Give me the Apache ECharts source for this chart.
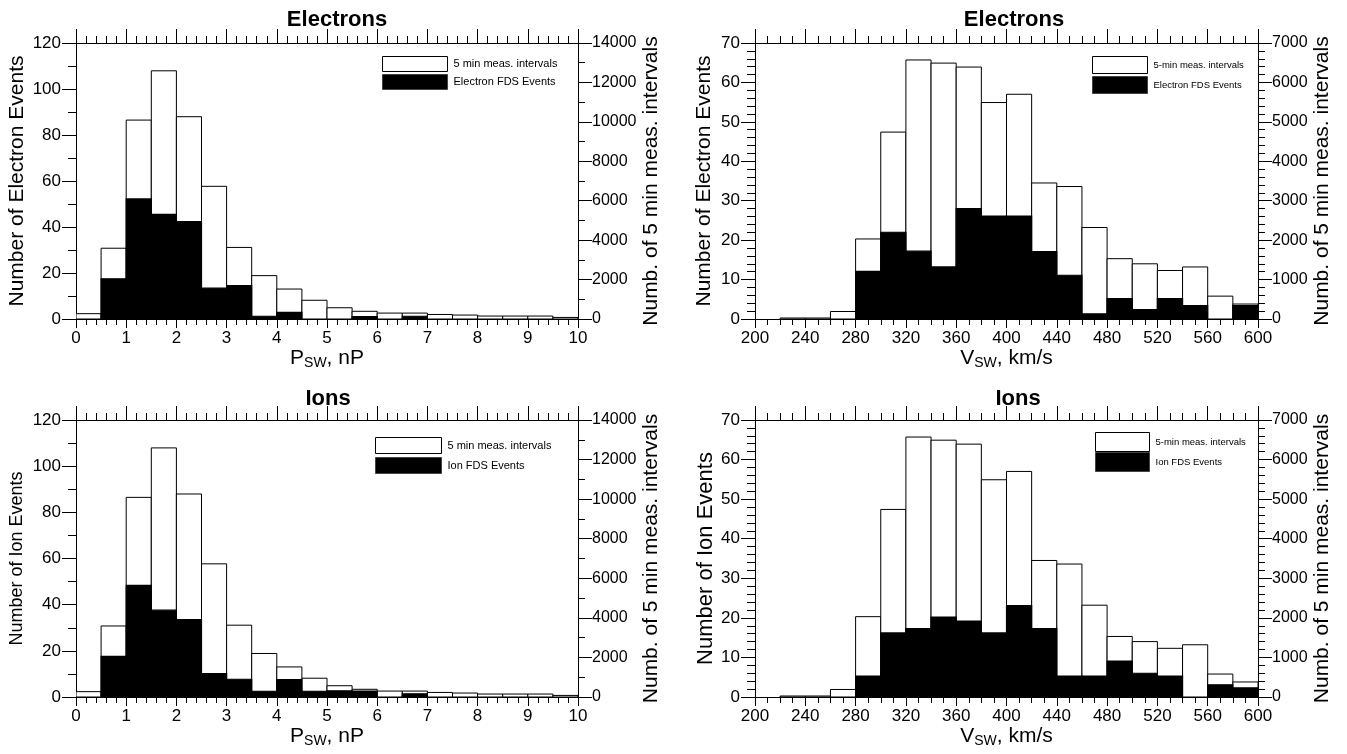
<!DOCTYPE html>
<html>
<head>
<meta charset="utf-8">
<script src="https://cdn.jsdelivr.net/npm/echarts@6/dist/echarts.min.js"></script>
<style>
html,body{margin:0;padding:0;background:#fff;}
#chart{width:1347px;height:754px;}
</style>
</head>
<body>
<div id="chart"></div>
<script>
// ---- Data ----
const pBins = [0,0.5,1,1.5,2,2.5,3,3.5,4,4.5,5,5.5,6,6.5,7,7.5,8,8.5,9,9.5];
const vBins = [200,220,240,260,280,300,320,340,360,380,400,420,440,460,480,500,520,540,560,580];

// 5 min measurement intervals (right axis units)
const pIntervals = [270,3590,10090,12590,10260,6730,3630,2200,1520,950,570,390,300,300,230,200,150,150,150,80];
const vIntervals = [0,25,25,190,2030,4740,6570,6490,6390,5490,5700,3450,3360,2320,1530,1400,1230,1320,580,380];

// FDS events (left axis units)
const pElectron = [0,17.5,52.2,45.5,42.4,13.4,14.5,1.2,2.9,0,0,1.0,0,1.2,0,0,0,0,0,0];
const pIon      = [0,17.6,48.4,37.6,33.5,10.1,7.7,2.5,7.5,2.5,2.7,2.6,0,1.4,0,0,0,0,0,0];
const vElectron = [0,0,0,0,12.1,22.0,17.2,13.2,28.0,26.1,26.1,17.1,11.1,1.3,5.2,2.4,5.2,3.4,0,3.4];
const vIon      = [0,0,0,0,5.3,16.2,17.3,20.2,19.2,16.2,23.1,17.3,5.3,5.3,9.1,6.0,5.3,0,3.1,2.3];

const pTicks = {min:0, max:10, interval:1, minorSplit:5};
const vTicks = {min:200, max:600, interval:40, minorSplit:4};
const pLeft = {max:120, interval:20, minorSplit:2};
const vLeft = {max:70, interval:10, minorSplit:5};
const pRight = {max:14000, interval:2000, minorSplit:2};
const vRight = {max:7000, interval:1000, minorSplit:5};

const FONT = 'Liberation Sans, Arial, Helvetica, sans-serif';

const grids = [
  {left:76, top:43, width:502, height:276},
  {left:755, top:43, width:503, height:276},
  {left:76, top:420, width:502, height:277},
  {left:755, top:420, width:503, height:277}
];

const lineStyle = {color:'#000', width:1};

function xBottom(gi, t, nameRich){
  return {
    gridIndex:gi, type:'value', position:'bottom', min:t.min, max:t.max, interval:t.interval,
    axisLine:{show:true, onZero:false, lineStyle},
    axisTick:{show:true, length:9, lineStyle},
    minorTick:{show:true, splitNumber:t.minorSplit, length:6, lineStyle},
    splitLine:{show:false}, minorSplitLine:{show:false},
    axisLabel:{show:true, fontSize:17, color:'#000', margin:11, fontFamily:FONT, formatter:v=>String(v)},
    name:nameRich.text, nameLocation:'middle', nameGap:25,
    nameTextStyle:{color:'#000', fontFamily:FONT, rich:nameRich.rich}
  };
}
function xTop(gi, t){
  return {
    gridIndex:gi, type:'value', position:'top', min:t.min, max:t.max, interval:t.interval,
    axisLine:{show:true, onZero:false, lineStyle},
    axisTick:{show:true, length:14, lineStyle},
    minorTick:{show:true, splitNumber:t.minorSplit, length:7, lineStyle},
    splitLine:{show:false}, axisLabel:{show:false}
  };
}
function yLeft(gi, t, name, nameSize, nameGap){
  return {
    gridIndex:gi, type:'value', position:'left', min:0, max:t.max, interval:t.interval,
    axisLine:{show:true, onZero:false, lineStyle},
    axisTick:{show:true, length:14, lineStyle},
    minorTick:{show:true, splitNumber:t.minorSplit, length:8, lineStyle},
    splitLine:{show:false},
    axisLabel:{show:true, fontSize:17, color:'#000', margin:15, fontFamily:FONT, formatter:v=>String(v)},
    name:name, nameLocation:'middle', nameGap:nameGap,
    nameTextStyle:{color:'#000', fontSize:nameSize, fontFamily:FONT}
  };
}
function yRight(gi, t, name, nameGap){
  return {
    gridIndex:gi, type:'value', position:'right', min:0, max:t.max, interval:t.interval,
    axisLine:{show:true, onZero:false, lineStyle},
    axisTick:{show:true, length:14, lineStyle},
    minorTick:{show:true, splitNumber:t.minorSplit, length:7, lineStyle},
    splitLine:{show:false},
    axisLabel:{show:true, fontSize:16, color:'#000', margin:14, fontFamily:FONT, formatter:v=>String(v)},
    name:name, nameLocation:'middle', nameGap:nameGap,
    nameTextStyle:{color:'#000', fontSize:21, fontFamily:FONT}
  };
}

const subRich = {
  p:{fontSize:21, lineHeight:24, color:'#000', fontFamily:FONT},
  s:{fontSize:14, lineHeight:14, verticalAlign:'bottom', color:'#000', fontFamily:FONT}
};
const pName = {text:'{p|P}{s|SW}{p|, nP}', rich:subRich};
const vName = {text:'{p|V}{s|SW}{p|, km/s}', rich:subRich};

const xAxes = [
  xBottom(0,pTicks,pName), xTop(0,pTicks),
  xBottom(1,vTicks,vName), xTop(1,vTicks),
  xBottom(2,pTicks,pName), xTop(2,pTicks),
  xBottom(3,vTicks,vName), xTop(3,vTicks)
];
const rightName = 'Numb. of 5 min meas. intervals';
const yAxes = [
  yLeft(0,pLeft,'Number of Electron Events',21,48), yRight(0,pRight,rightName,58),
  yLeft(1,vLeft,'Number of Electron Events',21,40), yRight(1,vRight,rightName,50),
  yLeft(2,pLeft,'Number of Ion Events',18,50), yRight(2,pRight,rightName,58),
  yLeft(3,vLeft,'Number of Ion Events',22,38), yRight(3,vRight,rightName,50)
];

function histSeries(name, bins, vals, binW, xi, yi, black){
  return {
    type:'custom', name:name, xAxisIndex:xi, yAxisIndex:yi, clip:true,
    z: black ? 3 : 2,
    itemStyle: black ? {color:'#000', borderColor:'#000', borderWidth:1}
                     : {color:'#fff', borderColor:'#000', borderWidth:1},
    data: bins.map((b,i)=>[b, vals[i]]),
    renderItem: function(params, api){
      const x0 = api.value(0), v = api.value(1);
      if (!(v > 0)) return null;
      const a = api.coord([x0, v]);
      const b = api.coord([x0 + binW, 0]);
      return {
        type:'rect',
        shape:{x:a[0], y:a[1], width:b[0]-a[0], height:b[1]-a[1]},
        style: black ? {fill:'#000', stroke:'#000', lineWidth:1.2} : {fill:'#fff', stroke:'#000', lineWidth:1}
      };
    }
  };
}

const series = [
  histSeries('5 min meas. intervals', pBins, pIntervals, 0.5, 0, 1, false),
  histSeries('Electron FDS Events', pBins, pElectron, 0.5, 0, 0, true),
  histSeries('5-min meas. intervals', vBins, vIntervals, 20, 2, 3, false),
  histSeries('Electron FDS Events', vBins, vElectron, 20, 2, 2, true),
  histSeries('5 min meas. intervals', pBins, pIntervals, 0.5, 4, 5, false),
  histSeries('Ion FDS Events', pBins, pIon, 0.5, 4, 4, true),
  histSeries('5-min meas. intervals', vBins, vIntervals, 20, 6, 7, false),
  histSeries('Ion FDS Events', vBins, vIon, 20, 6, 6, true)
];

function legend(names, left, top, w, h, gap, fs){
  return {
    orient:'vertical', left:left, top:top, itemWidth:w, itemHeight:h, itemGap:gap, padding:0,
    icon:'rect', selectedMode:false,
    textStyle:{fontSize:fs, color:'#000', fontFamily:FONT, padding:[0,0,0,1]},
    data:[
      {name:names[0], icon:'rect', itemStyle:{color:'#fff', borderColor:'#000', borderWidth:1}},
      {name:names[1], icon:'rect', itemStyle:{color:'#000', borderColor:'#444', borderWidth:1}}
    ]
  };
}

const option = {
  animation:false,
  backgroundColor:'#fff',
  textStyle:{fontFamily:FONT},
  title:[
    {text:'Electrons', left:332, top:4, textAlign:'center', textStyle:{fontSize:22, fontWeight:'bold', color:'#000', fontFamily:FONT}},
    {text:'Electrons', left:1009, top:4, textAlign:'center', textStyle:{fontSize:22, fontWeight:'bold', color:'#000', fontFamily:FONT}},
    {text:'Ions', left:323, top:383, textAlign:'center', textStyle:{fontSize:22, fontWeight:'bold', color:'#000', fontFamily:FONT}},
    {text:'Ions', left:1013, top:383, textAlign:'center', textStyle:{fontSize:22, fontWeight:'bold', color:'#000', fontFamily:FONT}}
  ],
  legend:[
    legend(['5 min meas. intervals','Electron FDS Events'], 382, 56, 65, 15, 2, 11),
    legend(['5-min meas. intervals','Electron FDS Events'], 1092, 56, 55, 17, 2, 9.5),
    legend(['5 min meas. intervals','Ion FDS Events'], 375, 437, 66, 16, 3, 11),
    legend(['5-min meas. intervals','Ion FDS Events'], 1095, 432, 54, 19, 0, 9.5)
  ],
  grid:grids,
  xAxis:xAxes,
  yAxis:yAxes,
  series:series
};

const chart = echarts.init(document.getElementById('chart'), null, {renderer:'canvas'});
chart.setOption(option);
</script>
</body>
</html>
